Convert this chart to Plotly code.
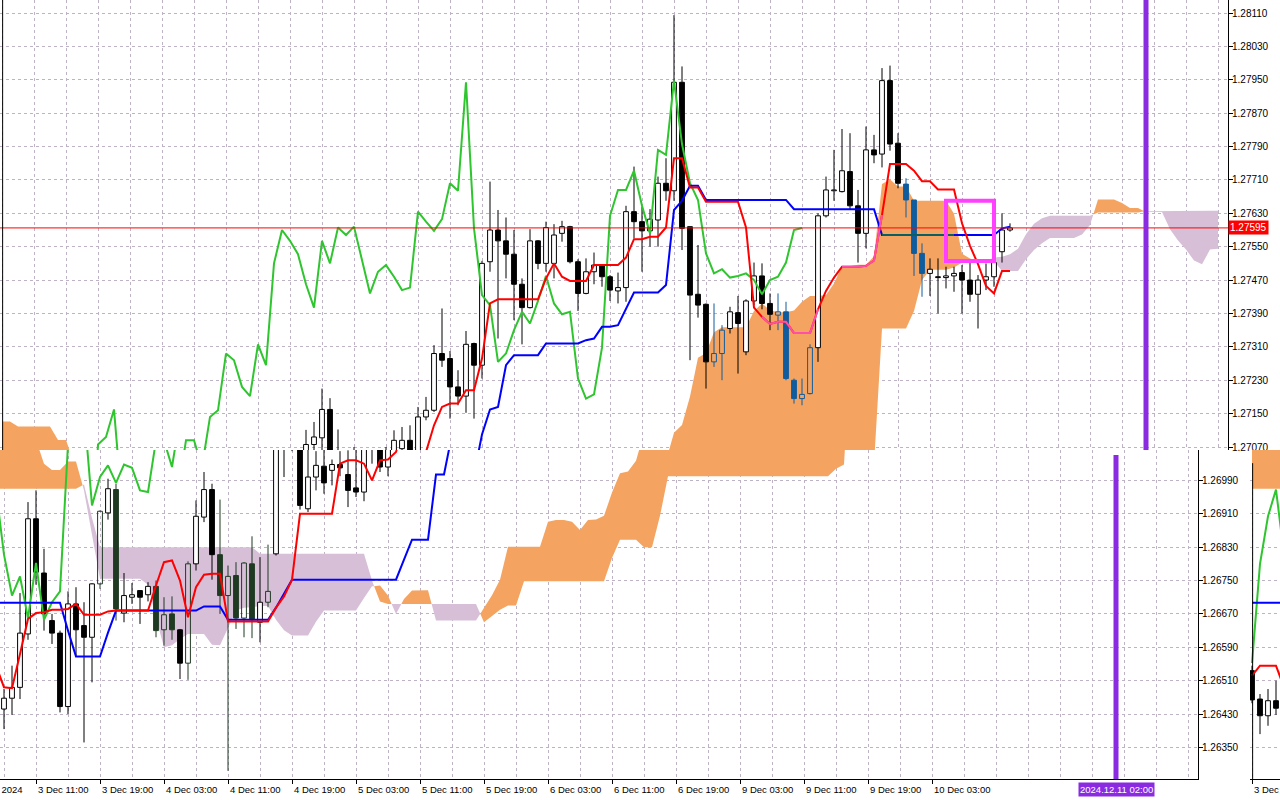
import plotly.graph_objects as go

# ---------------- DATA (H1 bars, index 0 = 3 Dec 11:00) ----------------
FIRST_BAR = -8

opens = [
    1.26534, 1.26466, 1.26426, 1.26462, 1.26442, 1.26468, 1.26494, 1.26622,
    1.26898, 1.26768, 1.26654, 1.26624, 1.26448, 1.26694, 1.26642, 1.26614,
    1.26742, 1.26912, 1.26968, 1.26672, 1.26710, 1.26726, 1.26716, 1.26736,
    1.26632, 1.26670, 1.26632, 1.26552, 1.26790, 1.26902, 1.26968, 1.26812,
    1.26714, 1.26762, 1.26660, 1.26790, 1.26650, 1.26698, 1.26814, 1.27076,
    1.27092, 1.27160, 1.26922, 1.26998, 1.27024, 1.27014, 1.27028, 1.27004,
    1.26972, 1.26962, 1.27066, 1.27086, 1.27022, 1.27142, 1.27158, 1.27294,
    1.27282, 1.27214, 1.27192, 1.27318, 1.27266, 1.27514, 1.27590, 1.27564,
    1.27532, 1.27460, 1.27404, 1.27564, 1.27510, 1.27510, 1.27582, 1.27598,
    1.27514, 1.27438, 1.27490, 1.27506, 1.27478, 1.27444, 1.27452, 1.27634,
    1.27610, 1.27588, 1.27614, 1.27702, 1.27684, 1.27944, 1.27598, 1.27436,
    1.27412, 1.27274, 1.27294, 1.27354, 1.27392, 1.27298, 1.27420, 1.27480,
    1.27414, 1.27386, 1.27394, 1.27230, 1.27186, 1.27198, 1.27308, 1.27624,
    1.27684, 1.27682, 1.27730, 1.27648, 1.27582, 1.27782, 1.27772, 1.27948,
    1.27798, 1.27700, 1.27662, 1.27534, 1.27486, 1.27478, 1.27476, 1.27480,
    1.27488, 1.27470, 1.27436, 1.27470, 1.27478, 1.27538, 1.27590,
]
highs = [
    1.26546, 1.26478, 1.26490, 1.26510, 1.26490, 1.26546, 1.26720, 1.26938,
    1.26966, 1.26826, 1.26670, 1.26630, 1.26724, 1.26734, 1.26698, 1.26744,
    1.26918, 1.26994, 1.26982, 1.26768, 1.26744, 1.26726, 1.26746, 1.26750,
    1.26710, 1.26712, 1.26634, 1.26796, 1.26942, 1.27010, 1.26982, 1.26944,
    1.26786, 1.26794, 1.26794, 1.26856, 1.26806, 1.26836, 1.27111, 1.27130,
    1.27210, 1.27187, 1.27112, 1.27060, 1.27070, 1.27040, 1.27060, 1.27062,
    1.27070, 1.27110, 1.27118, 1.27122, 1.27166, 1.27190, 1.27314, 1.27402,
    1.27300, 1.27254, 1.27348, 1.27320, 1.27516, 1.27706, 1.27638, 1.27620,
    1.27590, 1.27474, 1.27592, 1.27566, 1.27610, 1.27604, 1.27612, 1.27600,
    1.27520, 1.27522, 1.27536, 1.27508, 1.27482, 1.27488, 1.27648, 1.27742,
    1.27646, 1.27640, 1.27718, 1.27762, 1.28105, 1.27982, 1.27598, 1.27554,
    1.27414, 1.27414, 1.27362, 1.27406, 1.27432, 1.27424, 1.27512, 1.27510,
    1.27438, 1.27438, 1.27418, 1.27234, 1.27234, 1.27316, 1.27630, 1.27718,
    1.27782, 1.27832, 1.27822, 1.27686, 1.27838, 1.27818, 1.27978, 1.27984,
    1.27822, 1.27714, 1.27662, 1.27558, 1.27522, 1.27522, 1.27502, 1.27502,
    1.27506, 1.27514, 1.27482, 1.27510, 1.27518, 1.27630, 1.27606,
]
lows = [
    1.26456, 1.26382, 1.26402, 1.26428, 1.26394, 1.26428, 1.26466, 1.26608,
    1.26740, 1.26630, 1.26598, 1.26434, 1.26430, 1.26570, 1.26362, 1.26506,
    1.26730, 1.26896, 1.26654, 1.26650, 1.26694, 1.26646, 1.26700, 1.26614,
    1.26594, 1.26608, 1.26514, 1.26512, 1.26774, 1.26890, 1.26752, 1.26670,
    1.26294, 1.26634, 1.26614, 1.26612, 1.26602, 1.26686, 1.26810, 1.26998,
    1.27060, 1.26920, 1.26914, 1.26966, 1.26958, 1.26978, 1.27000, 1.26926,
    1.26950, 1.26940, 1.27030, 1.27010, 1.27000, 1.27134, 1.27154, 1.27262,
    1.27138, 1.27170, 1.27152, 1.27138, 1.27234, 1.27490, 1.27330, 1.27474,
    1.27374, 1.27316, 1.27402, 1.27496, 1.27490, 1.27474, 1.27562, 1.27510,
    1.27396, 1.27436, 1.27460, 1.27454, 1.27420, 1.27414, 1.27418, 1.27570,
    1.27490, 1.27550, 1.27550, 1.27660, 1.27660, 1.27542, 1.27278, 1.27380,
    1.27210, 1.27262, 1.27230, 1.27342, 1.27246, 1.27290, 1.27410, 1.27400,
    1.27350, 1.27350, 1.27230, 1.27174, 1.27170, 1.27196, 1.27274, 1.27620,
    1.27660, 1.27680, 1.27640, 1.27512, 1.27546, 1.27750, 1.27740, 1.27780,
    1.27690, 1.27620, 1.27480, 1.27430, 1.27432, 1.27390, 1.27450, 1.27442,
    1.27390, 1.27418, 1.27354, 1.27446, 1.27454, 1.27512, 1.27586,
]
closes = [
    1.26464, 1.26426, 1.26462, 1.26444, 1.26468, 1.26494, 1.26624, 1.26898,
    1.26770, 1.26670, 1.26624, 1.26448, 1.26694, 1.26632, 1.26614, 1.26742,
    1.26916, 1.26970, 1.26682, 1.26714, 1.26716, 1.26710, 1.26736, 1.26630,
    1.26668, 1.26632, 1.26552, 1.26790, 1.26904, 1.26968, 1.26812, 1.26714,
    1.26760, 1.26660, 1.26792, 1.26656, 1.26698, 1.26724, 1.27076, 1.27094,
    1.27160, 1.26930, 1.26998, 1.27026, 1.26984, 1.27028, 1.27020, 1.26966,
    1.26962, 1.27086, 1.27086, 1.27022, 1.27142, 1.27158, 1.27294, 1.27278,
    1.27214, 1.27192, 1.27316, 1.27266, 1.27510, 1.27590, 1.27564, 1.27532,
    1.27460, 1.27404, 1.27564, 1.27510, 1.27596, 1.27578, 1.27598, 1.27514,
    1.27438, 1.27490, 1.27506, 1.27478, 1.27446, 1.27452, 1.27634, 1.27610,
    1.27588, 1.27616, 1.27702, 1.27684, 1.27944, 1.27594, 1.27434, 1.27410,
    1.27274, 1.27294, 1.27350, 1.27394, 1.27366, 1.27420, 1.27480, 1.27414,
    1.27388, 1.27394, 1.27234, 1.27186, 1.27196, 1.27308, 1.27624, 1.27686,
    1.27686, 1.27732, 1.27648, 1.27582, 1.27782, 1.27770, 1.27948, 1.27796,
    1.27702, 1.27662, 1.27534, 1.27486, 1.27496, 1.27476, 1.27480, 1.27486,
    1.27470, 1.27436, 1.27470, 1.27478, 1.27512, 1.27590, 1.27595,
]
tenkan = [
    1.26522, 1.26546, 1.26546, 1.26546, 1.26494, 1.26492, 1.26574, 1.26658,
    1.26672, 1.26674, 1.26680, 1.26680, 1.26682, 1.26694, 1.26668, 1.26668,
    1.26668, 1.26676, 1.26678, 1.26678, 1.26678, 1.26678, 1.26678, 1.26738,
    1.26794, 1.26798, 1.26750, 1.26662, 1.26734, 1.26764, 1.26766, 1.26766,
    1.26652, 1.26652, 1.26652, 1.26652, 1.26652, 1.26652, 1.26685, 1.26712,
    1.26752, 1.26910, 1.26910, 1.26910, 1.26910, 1.26910, 1.27030, 1.27038,
    1.27038, 1.27030, 1.26990, 1.27038, 1.27040, 1.27058, 1.27122, 1.27166,
    1.27174, 1.27174, 1.27206, 1.27206, 1.27282, 1.27414, 1.27424, 1.27424,
    1.27424, 1.27424, 1.27424, 1.27424, 1.27474, 1.27510, 1.27478, 1.27468,
    1.27468, 1.27468, 1.27506, 1.27506, 1.27506, 1.27506, 1.27524, 1.27568,
    1.27568, 1.27574, 1.27574, 1.27596, 1.27762, 1.27762, 1.27692, 1.27692,
    1.27658, 1.27658, 1.27658, 1.27658, 1.27658, 1.27596, 1.27404, 1.27382,
    1.27365, 1.27370, 1.27370, 1.27343, 1.27343, 1.27343, 1.27400, 1.27444,
    1.27476, 1.27502, 1.27502, 1.27502, 1.27504, 1.27517, 1.27626, 1.27748,
    1.27748, 1.27748, 1.27732, 1.27707, 1.27707, 1.27687, 1.27687, 1.27687,
    1.27606, 1.27552, 1.27508, 1.27456, 1.27438, 1.27492, 1.27492,
]
kijun = [
    1.26697, 1.26697, 1.26697, 1.26697, 1.26697, 1.26697, 1.26697, 1.26697,
    1.26697, 1.26697, 1.26697, 1.26697, 1.26630, 1.26568, 1.26568, 1.26568,
    1.26568, 1.26625, 1.26678, 1.26678, 1.26678, 1.26678, 1.26678, 1.26678,
    1.26678, 1.26678, 1.26678, 1.26678, 1.26678, 1.26688, 1.26688, 1.26688,
    1.26656, 1.26656, 1.26656, 1.26656, 1.26656, 1.26656, 1.26685, 1.26718,
    1.26752, 1.26752, 1.26752, 1.26752, 1.26752, 1.26752, 1.26752, 1.26752,
    1.26752, 1.26752, 1.26752, 1.26752, 1.26752, 1.26752, 1.26800, 1.26848,
    1.26848, 1.26848, 1.27004, 1.27004, 1.27100, 1.27160, 1.27166, 1.27266,
    1.27290, 1.27290, 1.27290, 1.27290, 1.27318, 1.27318, 1.27318, 1.27318,
    1.27318, 1.27326, 1.27330, 1.27358, 1.27358, 1.27362, 1.27400, 1.27440,
    1.27440, 1.27440, 1.27440, 1.27458, 1.27638, 1.27660, 1.27696, 1.27696,
    1.27662, 1.27662, 1.27662, 1.27662, 1.27662, 1.27662, 1.27662, 1.27662,
    1.27662, 1.27662, 1.27662, 1.27640, 1.27640, 1.27640, 1.27640, 1.27640,
    1.27640, 1.27640, 1.27640, 1.27640, 1.27640, 1.27640, 1.27578, 1.27578,
    1.27578, 1.27578, 1.27578, 1.27578, 1.27578, 1.27578, 1.27578, 1.27578,
    1.27578, 1.27578, 1.27578, 1.27578, 1.27578, 1.27594, 1.27598,
]
# Senkou spans (already displaced 26 bars forward), bars -8 .. 144
span_a = [
    1.27131, 1.27131, 1.27119, 1.27119, 1.27119, 1.27119, 1.27119, 1.27087,
    1.27087, 1.27030, 1.27015, 1.27015, 1.27035, 1.27035, 1.26966, 1.26860,
    1.26754, 1.26754, 1.26754, 1.26754, 1.26754, 1.26754, 1.26740, 1.26660,
    1.26590, 1.26595, 1.26610, 1.26622, 1.26622, 1.26622, 1.26596, 1.26595,
    1.26636, 1.26678, 1.26685, 1.26686, 1.26689, 1.26689, 1.26656, 1.26631,
    1.26618, 1.26618, 1.26618, 1.26651, 1.26678, 1.26678, 1.26678, 1.26678,
    1.26678, 1.26708, 1.26736, 1.26738, 1.26714, 1.26670, 1.26706, 1.26726,
    1.26727, 1.26727, 1.26654, 1.26654, 1.26654, 1.26654, 1.26654, 1.26654,
    1.26685, 1.26715, 1.26752, 1.26831, 1.26831, 1.26831, 1.26831, 1.26831,
    1.26891, 1.26895, 1.26895, 1.26891, 1.26871, 1.26895, 1.26896, 1.26905,
    1.26961, 1.27007, 1.27011, 1.27037, 1.27104, 1.27123, 1.27191, 1.27284,
    1.27295, 1.27345, 1.27357, 1.27357, 1.27357, 1.27357, 1.27396, 1.27414,
    1.27398, 1.27393, 1.27393, 1.27397, 1.27418, 1.27432, 1.27432, 1.27434,
    1.27462, 1.27504, 1.27504, 1.27507, 1.27507, 1.27527, 1.27700, 1.27711,
    1.27694, 1.27694, 1.27660, 1.27660, 1.27660, 1.27660, 1.27660, 1.27629,
    1.27533, 1.27522, 1.27514, 1.27516, 1.27516, 1.27492, 1.27492, 1.27492,
    1.27520, 1.27542, 1.27558, 1.27571, 1.27571, 1.27571, 1.27571, 1.27579,
    1.27602, 1.27663, 1.27663, 1.27663, 1.27655, 1.27643, 1.27643, 1.27633,
    1.27633, 1.27633, 1.27592, 1.27565, 1.27543, 1.27517, 1.27508, 1.27543,
    1.27545,
]
span_b = [
    1.26970, 1.26970, 1.26970, 1.26970, 1.26970, 1.26970, 1.26970, 1.26970,
    1.26970, 1.26970, 1.26970, 1.26970, 1.26970, 1.26970, 1.26980, 1.26900,
    1.26830, 1.26830, 1.26830, 1.26830, 1.26830, 1.26830, 1.26830, 1.26830,
    1.26830, 1.26830, 1.26830, 1.26830, 1.26830, 1.26830, 1.26830, 1.26830,
    1.26830, 1.26830, 1.26830, 1.26830, 1.26814, 1.26814, 1.26814, 1.26814,
    1.26814, 1.26814, 1.26814, 1.26814, 1.26814, 1.26814, 1.26814, 1.26814,
    1.26814, 1.26814, 1.26750, 1.26700, 1.26694, 1.26694, 1.26694, 1.26694,
    1.26694, 1.26694, 1.26694, 1.26694, 1.26694, 1.26694, 1.26694, 1.26694,
    1.26650, 1.26665, 1.26680, 1.26690, 1.26690, 1.26748, 1.26748, 1.26748,
    1.26748, 1.26748, 1.26748, 1.26748, 1.26748, 1.26748, 1.26748, 1.26748,
    1.26804, 1.26848, 1.26848, 1.26848, 1.26830, 1.26830, 1.26905, 1.27000,
    1.27000, 1.27000, 1.27000, 1.27000, 1.27000, 1.27000, 1.27000, 1.27000,
    1.27000, 1.27000, 1.27000, 1.27000, 1.27000, 1.27000, 1.27000, 1.27000,
    1.27000, 1.27000, 1.27000, 1.27000, 1.27018, 1.27028, 1.27354, 1.27354,
    1.27354, 1.27354, 1.27396, 1.27470, 1.27495, 1.27495, 1.27495, 1.27500,
    1.27512, 1.27516, 1.27516, 1.27516, 1.27524, 1.27526, 1.27532, 1.27545,
    1.27580, 1.27605, 1.27618, 1.27624, 1.27624, 1.27624, 1.27624, 1.27624,
    1.27624, 1.27632, 1.27632, 1.27632, 1.27632, 1.27632, 1.27632, 1.27636,
    1.27636, 1.27636, 1.27636, 1.27636, 1.27636, 1.27636, 1.27636, 1.27636,
    1.27636,
]
CHIKOU_SHIFT = 26

time_label_bars = [-8, 0, 8, 16, 24, 32, 40, 48, 56, 64, 72, 80, 88, 96, 104, 112]
time_labels = ["3 Dec 2024", "3 Dec 11:00", "3 Dec 19:00", "4 Dec 03:00", "4 Dec 11:00",
               "4 Dec 19:00", "5 Dec 03:00", "5 Dec 11:00", "5 Dec 19:00", "6 Dec 03:00",
               "6 Dec 11:00", "6 Dec 19:00", "9 Dec 03:00", "9 Dec 11:00", "9 Dec 19:00",
               "10 Dec 03:00"]
price_ticks_top = [1.27070, 1.27150, 1.27230, 1.27310, 1.27390, 1.27470, 1.27550,
                   1.27630, 1.27710, 1.27790, 1.27870, 1.27950, 1.28030, 1.28110]
price_ticks_bottom = [1.26350, 1.26430, 1.26510, 1.26590, 1.26670, 1.26750, 1.26830, 1.26910, 1.26990]

current_price = 1.27595
vline_bar = 135
vline_label = "2024.12.11 02:00"
rect_bars = [110, 116]
rect_prices = [1.27516, 1.27660]

# ---------------- STYLE / LAYOUT ----------------
W, H = 1280, 800
FONT = "Liberation Sans, Arial, sans-serif"
GRID = "#bdb3c4"
SAND = "#F4A460"
THISTLE = "#D8BFD8"
BLUEV = "#8a2be2"

TOP = dict(xd=[0, 1228 / W], yd=[350 / H, 1.0], xr=[-8.25, 145.25], yr=[1.270628, 1.281412])
BOT = dict(xd=[0, 1198 / W], yd=[21 / H, 350 / H], xr=[-4.5, 145.25], yr=[1.262744, 1.270628])
WRAP = dict(xd=[1250 / W, 1.0], yd=[21 / H, 350 / H], xr=[-8.25, -4.5], yr=[1.262744, 1.270628])

bars = list(range(FIRST_BAR, FIRST_BAR + len(opens)))
cloud_bars = list(range(FIRST_BAR, FIRST_BAR + len(span_a)))
chikou_x = bars[:len(bars) - CHIKOU_SHIFT]
chikou_y = closes[CHIKOU_SHIFT:]


def in_sand(i, v):
    k = i - FIRST_BAR
    a, b = span_a[k], span_b[k]
    return a >= b and b < v < a


def cloud_polygons():
    segs = []
    cur, sign = [], None
    for k, x in enumerate(cloud_bars):
        a, b = span_a[k], span_b[k]
        s = a >= b
        if sign is None:
            sign, cur = s, [(x, a, b)]
            continue
        if s != sign:
            d0 = span_a[k - 1] - span_b[k - 1]
            d1 = a - b
            t = d0 / (d0 - d1)
            xc = cloud_bars[k - 1] + t
            yc = span_a[k - 1] + t * (a - span_a[k - 1])
            cur.append((xc, yc, yc))
            segs.append((sign, cur))
            cur, sign = [(xc, yc, yc), (x, a, b)], s
        else:
            cur.append((x, a, b))
    segs.append((sign, cur))
    out = {True: ([], []), False: ([], [])}
    for s, pts in segs:
        xs = [p[0] for p in pts] + [p[0] for p in reversed(pts)] + [pts[0][0], None]
        ys = [p[1] for p in pts] + [p[2] for p in reversed(pts)] + [pts[0][1], None]
        out[s][0].extend(xs)
        out[s][1].extend(ys)
    return out


def candle_groups():
    groups = {}
    for k, i in enumerate(bars):
        o, h, l, c = opens[k], highs[k], lows[k], closes[k]
        ci = i - FIRST_BAR
        a, b = span_a[ci], span_b[ci]
        m = (o + c) / 2
        if min(a, b) < m < max(a, b):
            cls = "sand" if a >= b else "thistle"
        else:
            cls = "plain"
        g = groups.setdefault(cls, dict(wx=[], wy=[], ux=[], uy=[], dx=[], dy=[]))
        top, bot = max(o, c), min(o, c)
        g["wx"] += [i, i, None, i, i, None]
        g["wy"] += [h, top, None, bot, l, None]
        w = 0.3
        key = ("ux", "uy") if c >= o else ("dx", "dy")
        g[key[0]] += [i - w, i + w, i + w, i - w, i - w, None]
        g[key[1]] += [o, o, c, c, o, None]
    return groups


def masked(xs, ys):
    return [v if in_sand(i, v) else None for i, v in zip(xs, ys)]


CLOUD = cloud_polygons()
CANDLES = candle_groups()
CAND_STYLE = {
    "plain": dict(line="#000000", up_fill="#ffffff", dn_fill="#000000"),
    "sand": dict(line="#0f5c9e", up_fill=None, dn_fill="#0f5c9e"),
    "thistle": dict(line="#1f3a22", up_fill=None, dn_fill="#1f3a22"),
}
tenkan_in_cloud = masked(bars, tenkan)
kijun_in_cloud = masked(bars, kijun)

fig = go.Figure()


def add_panel(xa, ya):
    common = dict(xaxis=xa, yaxis=ya, hoverinfo="skip", showlegend=False)
    fig.add_trace(go.Scatter(x=CLOUD[True][0], y=CLOUD[True][1], mode="lines", fill="toself",
                             fillcolor=SAND, line=dict(width=0, color=SAND), **common))
    fig.add_trace(go.Scatter(x=CLOUD[False][0], y=CLOUD[False][1], mode="lines", fill="toself",
                             fillcolor=THISTLE, line=dict(width=0, color=THISTLE), **common))
    for cls, g in CANDLES.items():
        st = CAND_STYLE[cls]
        fig.add_trace(go.Scatter(x=g["wx"], y=g["wy"], mode="lines",
                                 line=dict(color=st["line"], width=1), **common))
        if g["ux"]:
            if st["up_fill"]:
                fig.add_trace(go.Scatter(x=g["ux"], y=g["uy"], mode="lines", fill="toself",
                                         fillcolor=st["up_fill"], line=dict(color=st["line"], width=1), **common))
            else:
                fig.add_trace(go.Scatter(x=g["ux"], y=g["uy"], mode="lines",
                                         line=dict(color=st["line"], width=1), **common))
        if g["dx"]:
            fig.add_trace(go.Scatter(x=g["dx"], y=g["dy"], mode="lines", fill="toself",
                                     fillcolor=st["dn_fill"], line=dict(color=st["line"], width=1), **common))
    fig.add_trace(go.Scatter(x=chikou_x, y=chikou_y, mode="lines",
                             line=dict(color="#2fc52f", width=2), **common))
    fig.add_trace(go.Scatter(x=bars, y=kijun, mode="lines",
                             line=dict(color="#0000ff", width=2), **common))
    fig.add_trace(go.Scatter(x=bars, y=kijun_in_cloud, mode="lines",
                             line=dict(color="#0b5e62", width=2), **common))
    fig.add_trace(go.Scatter(x=bars, y=tenkan, mode="lines",
                             line=dict(color="#ff0000", width=2), **common))
    fig.add_trace(go.Scatter(x=bars, y=tenkan_in_cloud, mode="lines",
                             line=dict(color="#ff50a8", width=2), **common))


add_panel("x", "y")
add_panel("x2", "y2")
add_panel("x3", "y3")

tickfont = dict(family=FONT, size=10, color="black")
grid = dict(showgrid=True, gridcolor=GRID, gridwidth=1, griddash="3px,3px", zeroline=False)

fig.update_layout(
    width=W, height=H, margin=dict(l=0, r=0, t=0, b=0),
    paper_bgcolor="white", plot_bgcolor="white", showlegend=False, hovermode=False,
    font=dict(family=FONT, size=10, color="black"),
    xaxis=dict(domain=TOP["xd"], range=TOP["xr"], anchor="y", tickmode="linear", tick0=0, dtick=4,
               showticklabels=False, ticks="", showline=False, fixedrange=True, **grid),
    yaxis=dict(domain=TOP["yd"], range=TOP["yr"], anchor="x", side="right", tickmode="array",
               tickvals=price_ticks_top, ticktext=[f"{v:.5f}" for v in price_ticks_top],
               ticks="outside", ticklen=4, tickcolor="black", showline=True, linecolor="black",
               linewidth=1, tickfont=tickfont, ticklabelstandoff=-3, automargin=False,
               fixedrange=True, **grid),
    xaxis2=dict(domain=BOT["xd"], range=BOT["xr"], anchor="y2", tickmode="array",
                tickvals=time_label_bars, showticklabels=False, ticks="outside", ticklen=4,
                tickcolor="black", showline=True, linecolor="black", linewidth=1, fixedrange=True,
                minor=dict(tickmode="linear", tick0=0, dtick=4, showgrid=True, gridcolor=GRID,
                           griddash="3px,3px", ticks=""),
                **grid),
    yaxis2=dict(domain=BOT["yd"], range=BOT["yr"], anchor="x2", side="right", tickmode="array",
                tickvals=price_ticks_bottom, ticktext=[f"{v:.5f}" for v in price_ticks_bottom],
                ticks="outside", ticklen=4, tickcolor="black", showline=True, linecolor="black",
                linewidth=1, tickfont=tickfont, ticklabelstandoff=-3, automargin=False,
                fixedrange=True, **grid),
    xaxis3=dict(domain=WRAP["xd"], range=WRAP["xr"], anchor="y3", tickmode="array",
                tickvals=[time_label_bars[0]], showticklabels=False, ticks="outside", ticklen=4,
                tickcolor="black", showline=True, linecolor="black", linewidth=1, fixedrange=True,
                minor=dict(tickmode="linear", tick0=0, dtick=4, showgrid=True, gridcolor=GRID,
                           griddash="3px,3px", ticks=""),
                **grid),
    yaxis3=dict(domain=WRAP["yd"], range=WRAP["yr"], anchor="x3", tickmode="array",
                tickvals=price_ticks_bottom, showticklabels=False, ticks="", showline=False,
                fixedrange=True, **grid),
)


def bar_to_paper(panel, i):
    r0, r1 = panel["xr"]
    d0, d1 = panel["xd"]
    return d0 + (i - r0) / (r1 - r0) * (d1 - d0)


label_y = 1 - 789 / H
LABEL_FONT = dict(family=FONT, size=9.5, color="black")
annotations = []
for b, t in zip(time_label_bars, time_labels):
    annotations.append(dict(x=bar_to_paper(BOT, b), xref="paper", y=label_y, yref="paper", text=t,
                            showarrow=False, xanchor="left", yanchor="middle", xshift=0,
                            font=LABEL_FONT))
annotations.append(dict(x=bar_to_paper(WRAP, time_label_bars[0]), xref="paper", y=label_y, yref="paper",
                        text=time_labels[0], showarrow=False, xanchor="left", yanchor="middle", xshift=0,
                        font=LABEL_FONT))
annotations.append(dict(x=bar_to_paper(BOT, vline_bar), xref="paper", y=label_y, yref="paper",
                        text=vline_label, showarrow=False, xanchor="center", yanchor="middle",
                        bgcolor=BLUEV, borderpad=1, font=dict(family=FONT, size=9.5, color="white")))
annotations.append(dict(x=TOP["xd"][1], xref="paper", y=current_price, yref="y", text=f"{current_price:.5f}",
                        showarrow=False, xanchor="left", yanchor="middle", bgcolor="#ff0000", borderpad=1,
                        font=dict(family=FONT, size=10, color="white")))
fig.update_layout(annotations=annotations)

shapes = [
    dict(type="line", xref="x domain", x0=0, x1=1, yref="y", y0=current_price, y1=current_price,
         line=dict(color="#ff0000", width=1)),
    dict(type="line", xref="x", x0=vline_bar, x1=vline_bar, yref="y domain", y0=0, y1=1,
         line=dict(color=BLUEV, width=5)),
    dict(type="line", xref="x2", x0=vline_bar, x1=vline_bar, yref="y2 domain", y0=0, y1=0.985,
         line=dict(color=BLUEV, width=5)),
    dict(type="rect", xref="x", x0=rect_bars[0], x1=rect_bars[1], yref="y", y0=rect_prices[0],
         y1=rect_prices[1], line=dict(color="#ff40ff", width=4)),
    dict(type="line", xref="x", x0=FIRST_BAR + 0.08, x1=FIRST_BAR + 0.08, yref="y domain", y0=0, y1=1,
         line=dict(color="black", width=1)),
    dict(type="line", xref="x3", x0=FIRST_BAR + 0.08, x1=FIRST_BAR + 0.08, yref="y3 domain", y0=0, y1=0.96,
         line=dict(color="black", width=1)),
]
fig.update_layout(shapes=shapes)

fig.write_html(
    "out.html",
    config={"displayModeBar": False},
    post_script="document.body.style.margin='0px';document.body.style.padding='0px';"
                "document.body.style.overflow='hidden';",
)
